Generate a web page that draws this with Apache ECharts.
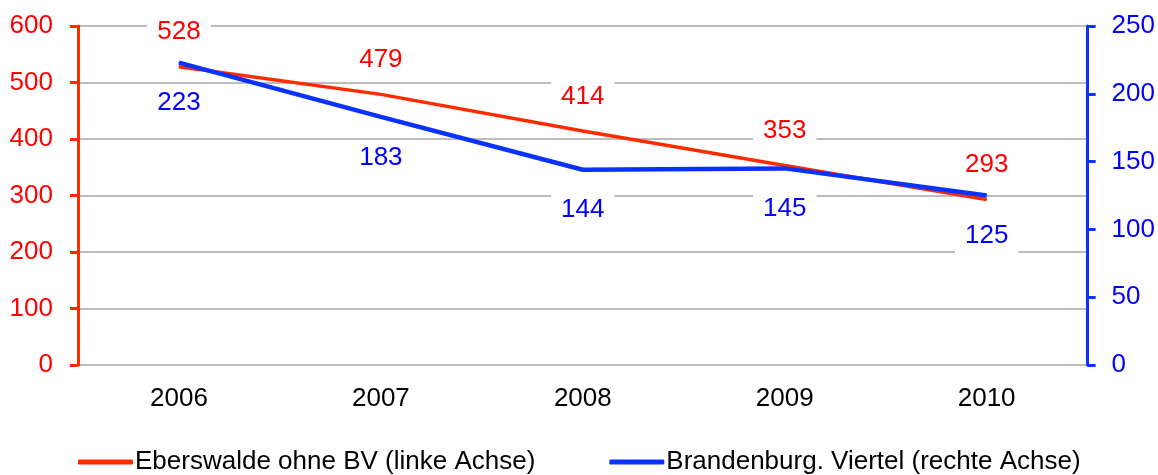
<!DOCTYPE html>
<html><head><meta charset="utf-8">
<script src="https://cdn.jsdelivr.net/npm/echarts@6/dist/echarts.min.js"></script>
<style>html,body{margin:0;padding:0;background:#fff}#c{width:1158px;height:475px}</style>
</head><body><div id="c"></div>
<script>
const categories = ['2006','2007','2008','2009','2010'];
const eberswalde = [528, 479, 414, 353, 293];
const brandenburg = [223, 183, 144, 145, 125];
const leftTicks = [0, 600, 100];
const rightTicks = [0, 250, 50];
const seriesNames = ['Eberswalde ohne BV (linke Achse)', 'Brandenburg. Viertel (rechte Achse)'];

const RED = '#ff2a00', BLUE = '#0a32ff';
const F = 'Liberation Sans, Arial, sans-serif';
const FS = 26;
const chart = echarts.init(document.getElementById('c'));
chart.setOption({
  animation: false,
  grid: { left: 78, right: 69, top: 26, bottom: 110, containLabel: false },
  legend: {
    top: 444, left: 73, itemGap: 74, itemWidth: 55, itemHeight: 5,
    textStyle: { fontFamily: F, fontSize: FS, color: '#000', padding: [0,0,0,-3] },
    data: [
      { name: seriesNames[0], icon: 'roundRect', itemStyle: { color: RED } },
      { name: seriesNames[1], icon: 'roundRect', itemStyle: { color: BLUE } }
    ]
  },
  xAxis: {
    type: 'category', data: categories, boundaryGap: true,
    axisLine: { show: false }, axisTick: { show: false },
    axisLabel: { fontFamily: F, fontSize: FS, color: '#000', margin: 21 }
  },
  yAxis: [
    { type: 'value', min: leftTicks[0], max: leftTicks[1], interval: leftTicks[2], position: 'left',
      axisLine: { show: true, lineStyle: { color: RED, width: 3 } },
      axisTick: { show: true, length: 8, lineStyle: { color: RED, width: 3 } },
      axisLabel: { fontFamily: F, fontSize: FS, color: '#ff0000', margin: 25 },
      splitLine: { show: true, lineStyle: { color: '#a6a6a6', width: 1.5 } } },
    { type: 'value', min: rightTicks[0], max: rightTicks[1], interval: rightTicks[2], position: 'right',
      axisLine: { show: true, lineStyle: { color: BLUE, width: 3 } },
      axisTick: { show: true, length: 8, lineStyle: { color: BLUE, width: 3 } },
      axisLabel: { fontFamily: F, fontSize: FS, color: '#0000ff', margin: 24 },
      splitLine: { show: false } }
  ],
  series: [
    { name: seriesNames[0], type: 'line', yAxisIndex: 0, data: eberswalde,
      symbol: 'circle', symbolSize: 1, showSymbol: true,
      lineStyle: { color: RED, width: 3.5 }, itemStyle: { color: RED }, z: 3,
      label: { show: true, position: 'top', distance: 17, fontFamily: F, fontSize: FS, color: '#ff0000',
        backgroundColor: '#fff', padding: [4, 10] } },
    { name: seriesNames[1], type: 'line', yAxisIndex: 1, data: brandenburg,
      symbol: 'circle', symbolSize: 1, showSymbol: true,
      lineStyle: { color: BLUE, width: 4.5 }, itemStyle: { color: BLUE }, z: 4,
      label: { show: true, position: 'bottom', distance: 23, fontFamily: F, fontSize: FS, color: '#0000ff',
        backgroundColor: '#fff', padding: [4, 10] } }
  ]
});
</script></body></html>
